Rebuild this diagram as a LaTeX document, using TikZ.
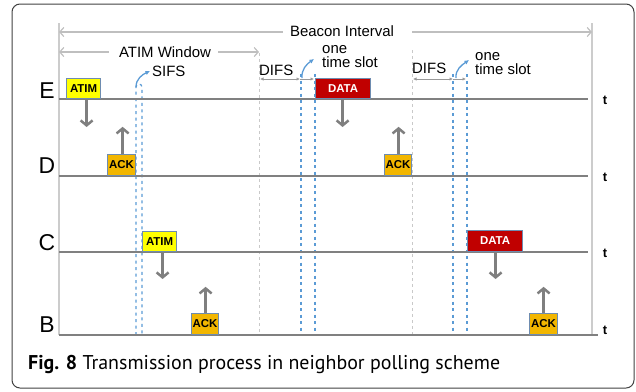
\documentclass[tikz,border=0pt]{standalone}
\usepackage{fontspec}
\setmainfont{Liberation Sans}
\newfontfamily\capfont{PT Sans}
\usetikzlibrary{arrows.meta}

\definecolor{lineGray}{HTML}{808080}
\definecolor{frameGray}{HTML}{CCCCCC}
\definecolor{spanGray}{HTML}{BFBFBF}
\definecolor{msgGray}{HTML}{7F7F7F}
\definecolor{slotBlue}{HTML}{5B9BD5}
\definecolor{boxEdge}{HTML}{6E8CB0}
\definecolor{atimYellow}{HTML}{FFFF00}
\definecolor{ackOrange}{HTML}{F2B600}
\definecolor{dataRed}{HTML}{C00000}

\tikzset{
  x=1bp, y=-1bp,
  timeline/.style={draw=lineGray, line width=1.5bp},
  bound/.style={draw=frameGray, line width=1.5bp},
  span/.style={draw=spanGray, line width=1.2bp, -{Straight Barb[length=4bp,width=9bp]}},
  guide/.style={draw=spanGray!85, line width=1bp, dash pattern=on 3bp off 3bp},
  slot/.style={draw=slotBlue, line width=1.2bp, dash pattern=on 3bp off 3.5bp},
  hop/.style={draw=slotBlue, line width=1.3bp, -{Latex[length=4.5bp,width=4.5bp]}},
  gap/.style={draw=spanGray!80!black, line width=1bp, {Latex[length=3.5bp,width=3.5bp]}-{Latex[length=3.5bp,width=3.5bp]}},
  gapend/.style={draw=spanGray!80!black, line width=1bp, -{Latex[length=3.5bp,width=3.5bp]}},
  msg/.style={draw=msgGray, line width=2.5bp, -{Straight Barb[length=5bp,width=12bp]}},
  frame/.style={draw=boxEdge, line width=1.2bp, inner sep=0pt, anchor=south west,
    font=\fontsize{11.5}{11.5}\selectfont\bfseries},
  atimbox/.style={frame, fill=atimYellow, text=black},
  ackbox/.style={frame, fill=ackOrange, text=black},
  databox/.style={frame, fill=dataRed, text=white},
  station/.style={font=\fontsize{23}{23}\selectfont, inner sep=0pt},
  tlabel/.style={font=\fontsize{13}{13}\selectfont\bfseries, inner sep=0pt},
  note/.style={font=\fontsize{15}{14}\selectfont, inner sep=0pt},
}

\begin{document}
\begin{tikzpicture}
\useasboundingbox (0,0) rectangle (636,391);

% outer frame
\draw[black!75, line width=1bp, rounded corners=8bp] (12,4) rectangle (634,388);

% interval bounds
\coordinate (bl0) at (59,23);  \coordinate (bl1) at (59,335);
\coordinate (br0) at (592,23); \coordinate (br1) at (592,335);
\draw[bound] (bl0) -- (bl1);
\draw[bound] (br0) -- (br1);

% beacon interval and ATIM window spans
\node[note] (beacon) at (342,31) {Beacon Interval};
\coordinate (bL) at (59,32); \coordinate (bR) at (592,32);
\draw[span] ([xshift=-7bp]beacon.west |- bL) -- (bL);
\draw[span] ([xshift=18bp]beacon.east |- bR) -- (bR);

\node[note] (atimwin) at (165,52) {ATIM Window};
\coordinate (wL) at (59,52); \coordinate (wR) at (259,52);
\draw[span] ([xshift=-10bp]atimwin.west |- wL) -- (wL);
\draw[span] ([xshift=7bp]atimwin.east |- wR) -- (wR);

% dashed guides
\coordinate (g1a) at (259,53); \coordinate (g1b) at (259,335);
\coordinate (g2a) at (412,50); \coordinate (g2b) at (412,335);
\draw[guide] (g1a) -- (g1b);
\draw[guide] (g2a) -- (g2b);

% SIFS slot
\coordinate (s1a) at (136,87); \coordinate (s1b) at (136,335);
\coordinate (s2a) at (142,87); \coordinate (s2b) at (142,335);
\draw[slot] (s1b) -- (s1a) arc[start angle=180, end angle=0, radius=3bp] -- (s2b);
\node[note, anchor=west] (sifs) at (152,71) {SIFS};
\draw[hop] (s1a) to[out=90, in=205] ([xshift=-2bp]sifs.west);

% first DIFS and time slot
\node[note, anchor=west] (difs1) at (259,70) {DIFS};
\coordinate (d1a) at (260,79); \coordinate (d1b) at (300,79); \coordinate (d1c) at (314,79);
\draw[gap] (d1a) -- (d1b);
\draw[gapend] (d1b) -- (d1c);
\coordinate (t1a) at (301,74); \coordinate (t1b) at (301,335);
\coordinate (t2a) at (315,74); \coordinate (t2b) at (315,335);
\draw[slot] (t1a) -- (t1b);
\draw[slot] (t2a) -- (t2b);
\node[note, anchor=west, align=left] (slot1) at (322,57) {one\\time slot};
\coordinate (h1) at (314,59);
\draw[hop] (302,78) to[out=95, in=215] (h1);

% second DIFS and time slot
\node[note, anchor=west] (difs2) at (412,68) {DIFS};
\coordinate (d2a) at (413,79); \coordinate (d2b) at (453,79); \coordinate (d2c) at (466,79);
\draw[gap] (d2a) -- (d2b);
\draw[gapend] (d2b) -- (d2c);
\coordinate (u1a) at (453,74); \coordinate (u1b) at (453,335);
\coordinate (u2a) at (467,74); \coordinate (u2b) at (467,335);
\draw[slot] (u1a) -- (u1b);
\draw[slot] (u2a) -- (u2b);
\node[note, anchor=west, align=left] (slot2) at (475,64) {one\\time slot};
\coordinate (h2) at (469,60);
\draw[hop] (456,78) to[out=95, in=215] (h2);

% stations and their time axes
\node[station] (stE) at (47,91) {E};
\node[station] (stD) at (47,166) {D};
\node[station] (stC) at (47,243) {C};
\node[station] (stB) at (47,325) {B};
\node[tlabel] (tE) at (605,100) {t};
\node[tlabel] (tD) at (605,177) {t};
\node[tlabel] (tC) at (605,253) {t};
\node[tlabel] (tB) at (605,330) {t};
\draw[timeline] (59,99) -- (588,99);
\draw[timeline] (59,176) -- (588,176);
\draw[timeline] (59,252) -- (588,252);
\draw[timeline] (59,335) -- (598,335);

% frames
\node[atimbox, minimum width=34bp, minimum height=20bp] (atimE) at (66,99) {ATIM};
\node[ackbox,  minimum width=28bp, minimum height=21bp] (ackD1) at (107,176) {ACK};
\node[databox, minimum width=55bp, minimum height=20bp] (dataE) at (315,99) {DATA};
\node[ackbox,  minimum width=27bp, minimum height=21bp] (ackD2) at (384,176) {ACK};
\node[atimbox, minimum width=34bp, minimum height=20bp] (atimC) at (142,252) {ATIM};
\node[ackbox,  minimum width=27bp, minimum height=21bp] (ackB1) at (191,335) {ACK};
\node[databox, minimum width=55bp, minimum height=21bp] (dataC) at (467,252) {DATA};
\node[ackbox,  minimum width=28bp, minimum height=21bp] (ackB2) at (529,335) {ACK};

% transmissions
\draw[msg] ([xshift=3bp]atimE.south) -- ++(0,28);
\draw[msg] ([xshift=1bp]ackD1.north) -- ++(0,-27);
\draw[msg] ([xshift=-0.5bp]dataE.south) -- ++(0,28);
\draw[msg] ([xshift=0.5bp]ackD2.north) -- ++(0,-27);
\draw[msg] ([xshift=3bp]atimC.south) -- ++(0,27);
\draw[msg] ([xshift=0.5bp]ackB1.north) -- ++(0,-26);
\draw[msg] ([xshift=0.5bp]dataC.south) -- ++(0,27);
\draw[msg] ([xshift=0bp]ackB2.north) -- ++(0,-26);

% caption
\node[anchor=base west, inner sep=0pt, font=\capfont\fontsize{20}{20}\selectfont] (caption) at (28,369)
  {\textbf{Fig. 8} Transmission process in neighbor polling scheme};
\end{tikzpicture}
\end{document}
